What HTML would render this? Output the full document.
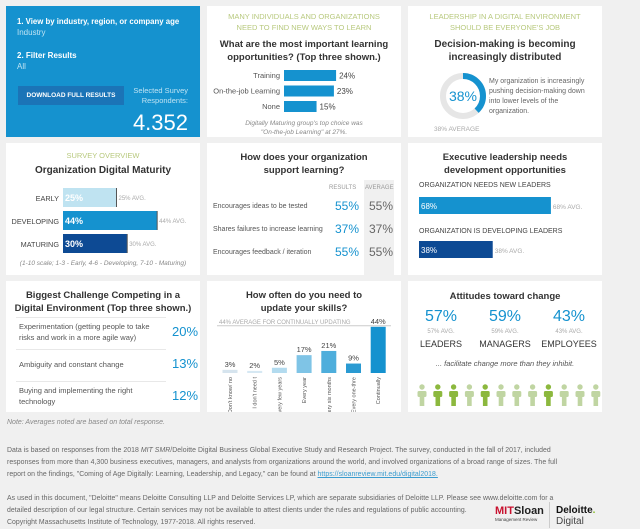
<!DOCTYPE html>
<html><head><meta charset="utf-8">
<style>
*{margin:0;padding:0;box-sizing:border-box}
body{width:640px;height:528px;background:#f0f0f0;font-family:"Liberation Sans",sans-serif;position:relative;overflow:hidden;color:#444}
.p{position:absolute;background:#fff}
.a{position:absolute;white-space:nowrap}
.g{color:#b8c97e;font-size:7.5px;text-align:center;line-height:11px}
.t{font-weight:bold;color:#333;font-size:9.5px;text-align:center;line-height:13px}
.s{font-size:7px;color:#666}
.f{font-size:6.9px;color:#666;line-height:12px;letter-spacing:0.05px}
</style></head><body>
<div class="p" style="left:6px;top:6px;width:194px;height:131px;background:#1592cf">
 <div class="a" style="left:11px;top:11px;color:#fff;font-weight:bold;font-size:7.8px">1. View by industry, region, or company age</div>
 <div class="a" style="left:11px;top:22px;color:#bfe3f3;font-size:8px">Industry</div>
 <div class="a" style="left:11px;top:45px;color:#fff;font-weight:bold;font-size:8px">2. Filter Results</div>
 <div class="a" style="left:11px;top:56px;color:#bfe3f3;font-size:8px">All</div>
 <div class="a" style="left:12px;top:80px;width:106px;height:19px;background:#1b74b7;color:#fff;font-weight:bold;font-size:6.5px;text-align:center;line-height:19px">DOWNLOAD FULL RESULTS</div>
 <div class="a" style="right:12px;top:80px;color:#bfe3f3;font-size:7.5px;text-align:right;line-height:10px">Selected Survey<br>Respondents:</div>
 <div class="a" style="right:12px;top:104px;color:#fff;font-size:22px">4.352</div>
</div>

<div class="p" style="left:207px;top:6px;width:194px;height:131px">
 <div class="a g" style="left:0;width:194px;top:5px">MANY INDIVIDUALS AND ORGANIZATIONS<br>NEED TO FIND NEW WAYS TO LEARN</div>
 <div class="a t" style="left:0;width:194px;top:32px">What are the most important learning<br>opportunities? (Top three shown.)</div>
 <svg class="a" style="left:0;top:0" width="194" height="131" id="lsvg"></svg>
 <div class="a" style="left:0;width:194px;top:113px;text-align:center;font-size:6.5px;font-style:italic;color:#888;line-height:9px">Digitally Maturing group's top choice was<br>"On-the-job Learning" at 27%.</div>
</div>

<div class="p" style="left:408px;top:6px;width:194px;height:131px">
 <div class="a g" style="left:0;width:194px;top:5px">LEADERSHIP IN A DIGITAL ENVIRONMENT<br>SHOULD BE EVERYONE'S JOB</div>
 <div class="a t" style="left:0;width:194px;top:32px;font-size:10px">Decision-making is becoming<br>increasingly distributed</div>
 <svg class="a" style="left:0;top:0" width="194" height="131" id="dsvg"></svg>
 <div class="a" style="left:81px;top:71px;font-size:7px;color:#666;line-height:10px">My organization is increasingly<br>pushing decision-making down<br>into lower levels of the<br>organization.</div>
 <div class="a" style="left:26px;top:120px;font-size:6.5px;color:#aaa">38% AVERAGE</div>
</div>

<div class="p" style="left:6px;top:143px;width:194px;height:132px">
 <div class="a g" style="left:0;width:194px;top:7px">SURVEY OVERVIEW</div>
 <div class="a t" style="left:0;width:194px;top:21px;font-size:10px">Organization Digital Maturity</div>
 <svg class="a" style="left:0;top:0" width="194" height="132" id="msvg"></svg>
 <div class="a" style="left:0;width:194px;top:117px;text-align:center;font-size:6.5px;font-style:italic;color:#888">(1-10 scale; 1-3 - Early, 4-6 - Developing, 7-10 - Maturing)</div>
</div>

<div class="p" style="left:207px;top:143px;width:194px;height:132px">
 <div class="a t" style="left:0;width:194px;top:8px">How does your organization<br>support learning?</div>
 <div class="a" style="left:157px;top:37px;width:30px;height:95px;background:#f0f0f0"></div>
 <div class="a s" style="left:122px;top:42px;font-size:6px;color:#999">RESULTS</div>
 <div class="a s" style="left:158px;top:42px;font-size:6px;color:#999">AVERAGE</div>
 <div id="supportRows"></div>
</div>

<div class="p" style="left:408px;top:143px;width:194px;height:132px">
 <div class="a t" style="left:0;width:194px;top:8px">Executive leadership needs<br>development opportunities</div>
 <div class="a" style="left:11px;top:39px;font-size:7px;color:#444">ORGANIZATION NEEDS NEW LEADERS</div>
 <div class="a" style="left:11px;top:85px;font-size:7px;color:#444">ORGANIZATION IS DEVELOPING LEADERS</div>
 <svg class="a" style="left:0;top:0" width="194" height="132" id="esvg"></svg>
</div>

<div class="p" style="left:6px;top:281px;width:194px;height:131px">
 <div class="a t" style="left:0;width:194px;top:8px">Biggest Challenge Competing in a<br>Digital Environment (Top three shown.)</div>
 <div id="chRows"></div>
</div>

<div class="p" style="left:207px;top:281px;width:194px;height:131px">
 <div class="a t" style="left:0;width:194px;top:8px">How often do you need to<br>update your skills?</div>
 <svg class="a" style="left:0;top:0" width="194" height="131" id="usvg"></svg>
</div>

<div class="p" style="left:408px;top:281px;width:194px;height:131px">
 <div class="a t" style="left:0;width:194px;top:9px">Attitudes toward change</div>
 <div id="attRows"></div>
 <div class="a" style="left:0;width:194px;top:78px;text-align:center;font-size:7.5px;font-style:italic;color:#555">... facilitate change more than they inhibit.</div>
 <svg class="a" style="left:0;top:0" width="194" height="131" id="psvg"></svg>
</div>

<div class="a" style="left:7px;top:419px;font-size:7px;font-style:italic;color:#888">Note: Averages noted are based on total response.</div>
<div class="a f" style="left:7px;top:445px">Data is based on responses from the 2018 <i>MIT SMR</i>/Deloitte Digital Business Global Executive Study and Research Project. The survey, conducted in the fall of 2017, included<br>responses from more than 4,300 business executives, managers, and analysts from organizations around the world, and involved organizations of a broad range of sizes. The full<br>report on the findings, "Coming of Age Digitally: Learning, Leadership, and Legacy," can be found at <span style="color:#3a9ccf;text-decoration:underline">https://sloanreview.mit.edu/digital2018.</span></div>
<div class="a f" style="left:7px;top:493px">As used in this document, "Deloitte" means Deloitte Consulting LLP and Deloitte Services LP, which are separate subsidiaries of Deloitte LLP. Please see www.deloitte.com for a<br>detailed description of our legal structure. Certain services may not be available to attest clients under the rules and regulations of public accounting.</div>
<div class="a f" style="left:7px;top:517px">Copyright Massachusetts Institute of Technology, 1977-2018.  All rights reserved.</div>
<div class="a" style="left:495px;top:506px;font-weight:bold;font-size:11px;line-height:11px"><span style="color:#c8102e">MIT</span><span style="color:#222">Sloan</span><div style="font-size:4.5px;color:#444;font-weight:normal;line-height:6px">Management Review</div></div>
<div class="a" style="left:549px;top:502px;width:1px;height:26px;background:#ccc"></div>
<div class="a" style="left:556px;top:505px;font-weight:bold;font-size:10px;color:#111;line-height:11px">Deloitte<span style="color:#86bc25">.</span><div style="font-weight:normal;color:#444;font-size:10px">Digital</div></div>

<script>
const NS='http://www.w3.org/2000/svg';
function mk(svg,tag,at,txt){const e=document.createElementNS(NS,tag);for(const k in at)e.setAttribute(k,at[k]);if(txt!=null)e.textContent=txt;svg.appendChild(e);return e;}

const learnCats=['Training','On-the-job Learning','None'];
const learnVals=[24,23,15];
(function(){const s=document.getElementById('lsvg');const x0=77,k=2.17;
learnCats.forEach((c,i)=>{const y=64+i*15.5;
 let t=mk(s,'text',{x:x0-4,y:y+8,'text-anchor':'end','font-size':7.5,fill:'#555'},c);
 
 let r=mk(s,'rect',{x:x0,y:y,width:learnVals[i]*k,height:11,fill:'#1592cf'});
 
 let v=mk(s,'text',{x:x0+learnVals[i]*k+3,y:y+8.5,'font-size':8,fill:'#444'},learnVals[i]+'%');
 });})();

const decisionVal=[38];
(function(){const s=document.getElementById('dsvg');const cx=55,cy=90,r=20,C=2*Math.PI*r;
 let bg=mk(s,'circle',{cx,cy,r,fill:'none',stroke:'#e6e6e6','stroke-width':6});
 
 let a=mk(s,'circle',{cx,cy,r,fill:'none',stroke:'#1592cf','stroke-width':6,'stroke-dasharray':(decisionVal[0]/100*C)+' '+C,transform:`rotate(-90 ${cx} ${cy})`});
 
 let t=mk(s,'text',{x:cx,y:cy+5,'text-anchor':'middle','font-size':14,fill:'#1592cf'},decisionVal[0]+'%');
 })();

const matCats=['EARLY','DEVELOPING','MATURING'];
const matVals=[25,44,30];
const matAvg=[25,44,30];
const matColors=['#bfe3f1','#1592cf','#0d4a94'];
(function(){const s=document.getElementById('msvg');const x0=57,k=2.14;
matCats.forEach((c,i)=>{const y=45+i*23;
 let l=mk(s,'text',{x:x0-4,y:y+13,'text-anchor':'end','font-size':7.3,fill:'#444'},c);
 
 let r=mk(s,'rect',{x:x0,y:y,width:matVals[i]*k,height:19,fill:matColors[i]});
 
 let v=mk(s,'text',{x:x0+2,y:y+13,'font-size':9,'font-weight':'bold',fill:'#fff'},matVals[i]+'%');
 
 let ax=x0+matAvg[i]*k;
 let al=mk(s,'line',{x1:ax,x2:ax,y1:y,y2:y+19,stroke:'#555','stroke-width':1});
 
 let at=mk(s,'text',{x:ax+2,y:y+12,'font-size':6,fill:'#aaa'},matAvg[i]+'% AVG.');
 });})();

const supCats=['Encourages ideas to be tested','Shares failures to increase learning','Encourages feedback / iteration'];
const supRes=[55,37,55];
const supAvg=[55,37,55];
(function(){const h=document.getElementById('supportRows');
supCats.forEach((c,i)=>{const y=58+i*23;
 h.insertAdjacentHTML('beforeend',`<div class="a" style="left:6px;top:${y+2}px;font-size:7px;color:#555">${c}</div><div class="a" style="left:128px;top:${y-2}px;font-size:12px;color:#1592cf">${supRes[i]}%</div><div class="a" style="left:162px;top:${y-2}px;font-size:12px;color:#666">${supAvg[i]}%</div>`);});})();

const execVals=[68,38];
const execColors=['#1592cf','#0d4a94'];
(function(){const s=document.getElementById('esvg');const x0=11,k=1.94;
execVals.forEach((v,i)=>{const y=54+i*44;
 let r=mk(s,'rect',{x:x0,y:y,width:v*k,height:17,fill:execColors[i]});
 
 let t=mk(s,'text',{x:x0+2,y:y+12,'font-size':8,fill:'#fff'},v+'%');
 
 let a=mk(s,'text',{x:x0+v*k+2,y:y+12,'font-size':6.5,fill:'#aaa'},v+'% AVG.');
 });})();

const chCats=['Experimentation (getting people to take<br>risks and work in a more agile way)','Ambiguity and constant change','Buying and implementing the right<br>technology'];
const chVals=[20,13,12];
(function(){const h=document.getElementById('chRows');
chCats.forEach((c,i)=>{const y=36+i*32;const two=c.includes('<br>');
 h.insertAdjacentHTML('beforeend',`<div class="a" style="left:10px;top:${y}px;width:150px;height:1px;background:#e8e8e8"></div><div class="a" style="left:13px;top:${y+(two?4:10)}px;font-size:7.5px;color:#555;line-height:11px">${c}</div><div class="a" style="left:166px;top:${y+7}px;font-size:13px;color:#1592cf">${chVals[i]}%</div>`);});})();

const upCats=["Don't know/ not sure","I don't need to update my skills",'Every few years','Every year','Every six months','Every one-three months','Continually'];
const upVals=[3,2,5,17,21,9,44];
const upAvg=[44];
const upColors=['#d6e4ee','#d6e8f3','#b3dbef','#7fc4e6','#4eaedc','#2a9ad2','#1592cf'];
(function(){const s=document.getElementById('usvg');const base=92,k=1.05,x0=23,dx=24.7,w=15;
 const ay=base-upAvg[0]*k-5;
 let al=mk(s,'line',{x1:10,x2:184,y1:ay+4,y2:ay+4,stroke:'#ccc','stroke-width':1});
 
 let at=mk(s,'text',{x:12,y:ay+2,'font-size':6,fill:'#aaa'},upAvg[0]+'% AVERAGE FOR CONTINUALLY UPDATING');
 
upCats.forEach((c,i)=>{const cx=x0+i*dx;const h=Math.max(upVals[i]*k,2);
 let r=mk(s,'rect',{x:cx-w/2,y:base-h,width:w,height:h,fill:upColors[i]});
 
 let v=mk(s,'text',{x:cx,y:base-h-3,'text-anchor':'middle','font-size':7.5,fill:'#444'},upVals[i]+'%');
 
 let l=mk(s,'text',{x:0,y:0,'text-anchor':'end','font-size':5.5,fill:'#555',transform:`translate(${cx+2},${base+4}) rotate(-90)`},c.length>18?c.slice(0,14):c);
 });})();

const attCats=['LEADERS','MANAGERS','EMPLOYEES'];
const attVals=[57,59,43];
const attAvg=[57,59,43];
(function(){const h=document.getElementById('attRows');
attCats.forEach((c,i)=>{const cx=33+i*64;
 h.insertAdjacentHTML('beforeend',`<div class="a" style="left:${cx-30}px;width:60px;text-align:center;top:27px;font-size:16px;color:#1592cf">${attVals[i]}%</div><div class="a" style="left:${cx-30}px;width:60px;text-align:center;top:48px;font-size:6px;color:#aaa">${attAvg[i]}% AVG.</div><div class="a" style="left:${cx-35}px;width:70px;text-align:center;top:58px;font-size:9px;color:#333">${c}</div>`);});})();

const peopleDark=[0,1,1,0,1,0,0,0,1,0,0,0];
(function(){const s=document.getElementById('psvg');
peopleDark.forEach((d,i)=>{const cx=14+i*15.8;const c=d?'#8cb83e':'#c0d5a2';
 const g=mk(s,'g',{fill:c});
 
 mk(g,'circle',{cx,cy:106,r:2.7});
 mk(g,'rect',{x:cx-4.5,y:110,width:9,height:6,rx:1.5});
 mk(g,'rect',{x:cx-2.3,y:115,width:4.6,height:10});});})();
</script>
</body></html>
